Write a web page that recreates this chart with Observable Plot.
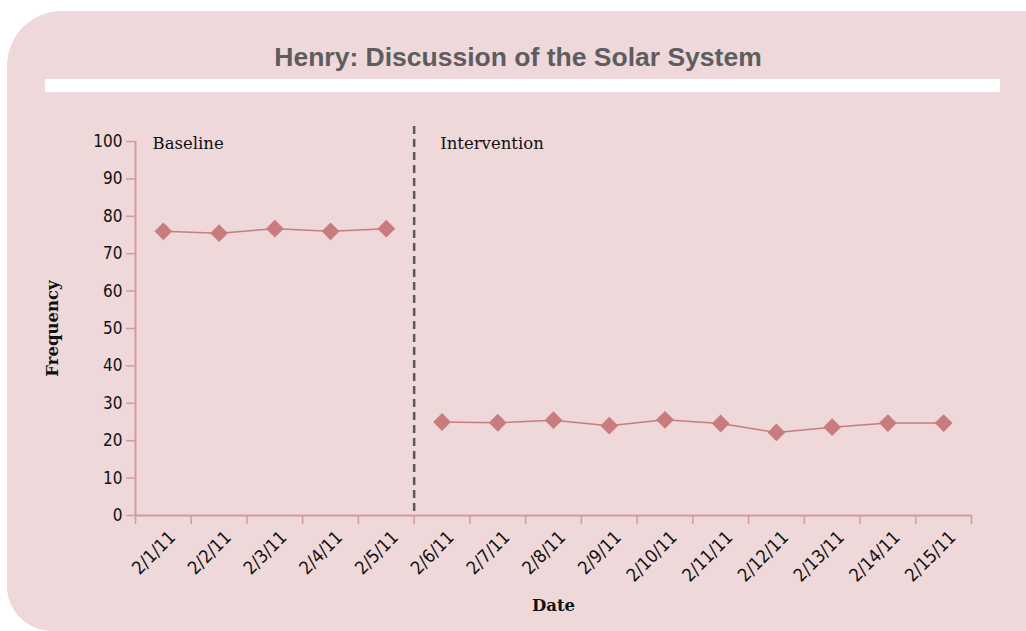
<!DOCTYPE html>
<html>
<head>
<meta charset="utf-8">
<script src="https://cdn.jsdelivr.net/npm/d3@7"></script>
<script src="https://cdn.jsdelivr.net/npm/@observablehq/plot@0.6"></script>
<style>
  html, body { margin: 0; padding: 0; background: #ffffff; }
  #wrap { position: relative; width: 1026px; height: 631px; overflow: hidden; }
  #panel { position: absolute; left: 7px; top: 11px; width: 1019px; height: 620px;
           background: #eed8da; border-radius: 55px 0 0 45px; }
  #title { position: absolute; left: 0; width: 1036px; top: 42px; text-align: center;
           font-family: "Liberation Sans", Arial, sans-serif; font-weight: bold; font-size: 26.5px; color: #5d5d5f; }
  #bar { position: absolute; left: 45px; top: 79px; width: 955px; height: 13px; background: #ffffff; }
  #chart { position: absolute; left: 0; top: 0; }
  #chart svg { background: transparent; }
</style>
</head>
<body>
<div id="wrap">
  <div id="panel"></div>
  <div id="title">Henry: Discussion of the Solar System</div>
  <div id="bar"></div>
  <div id="chart"></div>
</div>
<script>
const dates = ["2/1/11","2/2/11","2/3/11","2/4/11","2/5/11","2/6/11","2/7/11","2/8/11","2/9/11","2/10/11","2/11/11","2/12/11","2/13/11","2/14/11","2/15/11"];
const baselineValues = [76.0, 75.5, 76.7, 76.0, 76.7];
const interventionValues = [25.0, 24.8, 25.5, 24.0, 25.6, 24.6, 22.2, 23.6, 24.7, 24.7];
const phaseLabels = ["Baseline", "Intervention"];
const phaseStart = [0, 5];
const yTicks = [0,10,20,30,40,50,60,70,80,90,100];

const baseline = baselineValues.map((v, i) => ({i: i + 0.5, date: dates[i], v}));
const intervention = interventionValues.map((v, i) => ({i: i + 5.5, date: dates[i + 5], v}));

const pink = "#c97c7e";
const axisCol = "#d69a9c";
const narrow = "'Liberation Sans Narrow', 'DejaVu Sans Condensed', sans-serif";
const serif = "'DejaVu Serif', serif";

const chart = Plot.plot({
  width: 1026,
  height: 631,
  marginLeft: 135,
  marginRight: 55,
  marginTop: 141,
  marginBottom: 116,
  style: {background: "transparent", overflow: "visible"},
  x: {domain: [0, dates.length]},
  y: {domain: [0, 100]},
  marks: [
    Plot.ruleY([0], {stroke: axisCol, strokeWidth: 2}),
    Plot.ruleX([0], {stroke: axisCol, strokeWidth: 2}),
    Plot.axisY({ticks: yTicks, tickSize: 9, tickPadding: 4, stroke: axisCol, strokeWidth: 1.5,
      fontSize: 17, fontFamily: narrow, fill: "#111", label: null}),
    Plot.axisX({ticks: d3.range(dates.length + 1), tickSize: 9, tickFormat: () => "", stroke: axisCol, strokeWidth: 1.5, label: null}),
    Plot.axisX({ticks: d3.range(dates.length).map(i => i + 0.5), tickFormat: d => dates[Math.floor(d)],
      tickSize: 0, tickPadding: 19, tickRotate: -45, dx: 9, fontSize: 18, fontFamily: narrow, fill: "#111", label: null}),
    Plot.ruleX([phaseStart[1]], {stroke: "#59595b", strokeWidth: 2.5, strokeDasharray: "8,5", insetTop: -15}),
    Plot.line(baseline, {x: "i", y: "v", stroke: pink, strokeWidth: 1.5}),
    Plot.line(intervention, {x: "i", y: "v", stroke: pink, strokeWidth: 1.5}),
    Plot.dot(baseline, {x: "i", y: "v", symbol: "diamond2", r: 8, fill: pink, stroke: "none"}),
    Plot.dot(intervention, {x: "i", y: "v", symbol: "diamond2", r: 8, fill: pink, stroke: "none"}),
    Plot.text([phaseLabels[0]], {x: () => phaseStart[0], y: () => 100, text: d => d, dx: 17, dy: 2, textAnchor: "start", fontSize: 16.5, fontFamily: serif, fill: "#111"}),
    Plot.text([phaseLabels[1]], {x: () => phaseStart[1], y: () => 100, text: d => d, dx: 26, dy: 2, textAnchor: "start", fontSize: 16.5, fontFamily: serif, fill: "#111"}),
    Plot.text(["Frequency"], {frameAnchor: "left", dx: -83, rotate: -90, textAnchor: "middle", text: d => d, fontSize: 16.5, fontWeight: "bold", fontFamily: serif, fill: "#111"}),
    Plot.text(["Date"], {frameAnchor: "bottom", dy: 95, text: d => d, fontSize: 16.5, fontWeight: "bold", fontFamily: serif, fill: "#111"})
  ]
});
document.getElementById("chart").appendChild(chart);
</script>
</body>
</html>
